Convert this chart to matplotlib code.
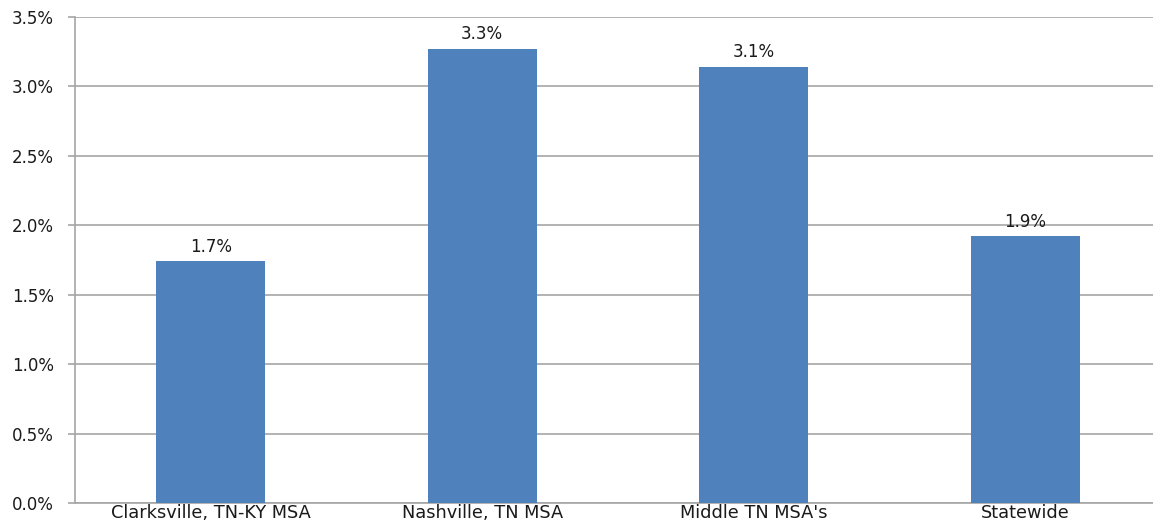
import numpy as np
import matplotlib.pyplot as plt
from matplotlib.ticker import FuncFormatter

categories = ["Clarksville, TN-KY MSA", "Nashville, TN MSA", "Middle TN MSA's", "Statewide"]
values = [1.74, 3.27, 3.14, 1.92]

plt.rcParams["font.family"] = ["DejaVu Sans"]

fig = plt.figure(figsize=(11.53, 5.25), dpi=100)
ax = fig.add_axes([75 / 1153, 1 - 503 / 525, 1086 / 1153, 486 / 525])

x = np.arange(len(categories))
bars = ax.bar(x, values, width=0.4, color="#4F81BD", zorder=3)

# value labels above bars
for b, v in zip(bars, values):
    ax.annotate(f"{v:.1f}%", (b.get_x() + b.get_width() / 2, v),
                xytext=(0, 4), textcoords="offset points",
                ha="center", va="bottom", fontsize=12, color="#1a1a1a")

ax.set_xlim(-0.5, len(categories) - 0.5)
ax.set_ylim(0, 3.5)
ax.set_yticks(np.arange(0, 3.51, 0.5))
ax.yaxis.set_major_formatter(FuncFormatter(lambda v, p: f"{v:.1f}%"))
ax.set_xticks(x)
ax.set_xticklabels(categories)

ax.grid(axis="y", color="#a6a6a6", linewidth=1.2, zorder=0)
for s in ["top", "right"]:
    ax.spines[s].set_visible(False)
ax.spines["left"].set_color("#a6a6a6")
ax.spines["left"].set_linewidth(1.2)
ax.spines["bottom"].set_color("#a6a6a6")
ax.spines["bottom"].set_linewidth(1.2)
ax.tick_params(axis="y", length=5, color="#a6a6a6", width=1.2, labelsize=12, labelcolor="#1a1a1a", pad=10)
ax.tick_params(axis="x", length=0, labelsize=12.8, labelcolor="#1a1a1a", pad=1)

fig.savefig("out.png", dpi=100)
